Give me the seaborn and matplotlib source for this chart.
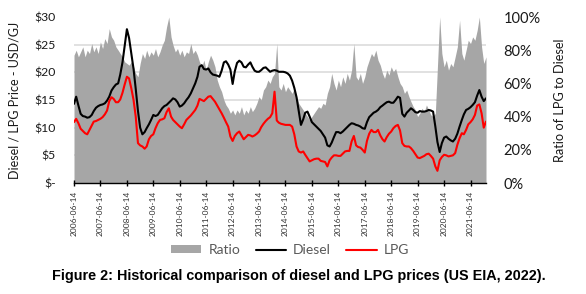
import numpy as np
import pandas as pd
import matplotlib
matplotlib.use("Agg")
import matplotlib.pyplot as plt
from matplotlib.ticker import FixedLocator
from matplotlib.patches import Patch
from matplotlib.lines import Line2D
import seaborn as sns

# ---------------- data (monthly readings, USD/GJ) ----------------
start_date = "2006-06-14"

diesel = [
    14.3, 15.6, 14.0, 12.5, 12.1, 12.0, 11.8, 11.9, 12.3, 13.0, 13.6, 13.9,
    14.1, 14.2, 14.4, 14.9, 15.6, 16.7, 17.3, 17.8, 18.0, 19.6, 21.8, 24.8,
    27.8, 26.2, 23.4, 20.6, 17.0, 13.0, 10.0, 8.8, 9.2, 9.9, 10.6, 11.4,
    12.3, 12.1, 12.3, 12.9, 13.5, 13.9, 14.1, 14.5, 14.9, 15.3, 15.1, 14.6,
    13.8, 14.0, 14.4, 15.0, 15.5, 16.2, 17.1, 18.0, 19.2, 21.0, 21.3, 20.6,
    20.5, 20.7, 20.0, 19.6, 19.5, 19.4, 19.2, 20.3, 21.8, 22.0, 21.4, 20.5,
    17.9, 20.2, 21.7, 22.1, 21.8, 21.0, 20.9, 21.4, 21.8, 21.0, 20.3, 20.1,
    20.1, 20.4, 20.8, 20.9, 20.5, 20.1, 20.3, 20.4, 20.3, 20.1, 20.1, 20.1,
    20.0, 19.8, 19.4, 18.5, 17.2, 15.5, 13.0, 10.5, 11.5, 12.7, 12.9, 12.0,
    11.0, 10.6, 10.2, 9.8, 9.4, 8.8, 8.2, 6.8, 6.6, 7.3, 8.3, 9.2,
    9.2, 9.0, 9.3, 9.7, 10.1, 10.5, 10.8, 10.7, 10.5, 10.4, 10.2, 9.9,
    9.8, 11.0, 11.9, 12.3, 12.7, 12.9, 13.2, 13.7, 14.0, 14.3, 14.6, 14.7,
    14.5, 14.5, 15.0, 15.6, 15.4, 12.5, 12.0, 12.7, 13.1, 13.5, 13.2, 12.8,
    12.7, 13.0, 12.9, 12.9, 13.0, 13.2, 13.1, 12.9, 10.2, 7.4, 5.6, 7.2,
    8.2, 8.4, 8.0, 7.7, 7.5, 8.0, 8.9, 10.2, 11.4, 12.4, 13.2, 13.4,
    13.7, 14.1, 14.6, 15.8, 16.8, 15.6, 14.8, 15.3,
]

lpg = [
    11.0, 11.6, 10.8, 9.8, 9.4, 9.0, 8.8, 9.6, 10.4, 11.1, 11.2, 11.4,
    11.6, 11.9, 12.4, 13.1, 14.8, 15.5, 15.2, 14.6, 14.6, 15.1, 16.3, 17.8,
    19.2, 18.9, 17.1, 15.0, 12.0, 7.2, 6.8, 6.6, 6.2, 6.6, 7.9, 8.5,
    8.8, 9.9, 10.8, 11.4, 11.5, 11.7, 12.8, 13.5, 12.0, 11.4, 11.0, 10.6,
    10.2, 9.9, 10.6, 11.4, 11.8, 12.2, 12.7, 13.2, 14.0, 15.2, 15.0, 14.8,
    15.2, 15.6, 15.7, 15.2, 14.7, 14.0, 13.3, 12.6, 11.8, 11.0, 10.2, 8.4,
    7.6, 8.5, 9.0, 9.3, 8.6, 7.9, 8.3, 8.7, 8.6, 8.4, 8.6, 8.9,
    9.3, 10.1, 10.7, 11.2, 11.6, 11.9, 12.6, 16.5, 11.3, 10.9, 10.7, 10.6,
    10.5, 10.5, 10.5, 10.2, 8.8, 6.6, 5.7, 5.5, 5.7, 5.1, 4.5, 3.9,
    4.1, 4.3, 4.4, 4.4, 4.0, 3.9, 3.8, 3.0, 4.1, 4.6, 5.0, 5.0,
    4.9, 4.9, 5.3, 5.7, 5.8, 5.8, 7.5, 8.5, 6.8, 6.5, 6.4, 6.0,
    5.5, 7.6, 8.9, 9.6, 9.2, 9.2, 9.6, 8.6, 7.9, 7.5, 8.3, 8.9,
    9.3, 9.9, 10.3, 10.5, 9.5, 7.2, 6.7, 6.6, 6.6, 6.3, 5.8, 5.2,
    4.6, 4.5, 4.7, 4.9, 5.2, 5.3, 4.9, 4.4, 3.0, 2.2, 4.1, 4.7,
    5.1, 5.0, 4.8, 4.9, 5.0, 5.4, 6.9, 8.1, 9.0, 8.8, 9.6, 10.6,
    11.0, 11.5, 12.3, 14.0, 14.2, 12.6, 10.0, 11.1,
]

ratio_pct = [
    77, 80, 76, 79, 82, 76, 80, 78, 84, 79, 82, 78,
    85, 81, 87, 84, 93, 88, 86, 82, 80, 78, 76, 73,
    72, 71, 73, 70, 66, 64, 72, 78, 75, 80, 76, 79,
    77, 81, 76, 79, 83, 86, 94, 100, 88, 83, 79, 81,
    77, 80, 76, 79, 78, 84, 78, 80, 77, 73, 70, 74,
    68, 73, 77, 74, 70, 62, 58, 55, 50, 47, 45, 42,
    44, 41, 44, 42, 46, 41, 44, 42, 46, 43, 45, 48,
    52, 50, 56, 58, 62, 60, 64, 66, 84, 58, 56, 60,
    55, 58, 56, 54, 57, 52, 48, 46, 44, 42, 40, 38,
    40, 42, 44, 46, 45, 48, 47, 54, 58, 66, 60, 56,
    62, 58, 64, 60, 66, 62, 68, 84, 64, 62, 66, 60,
    64, 70, 74, 78, 76, 80, 74, 71, 66, 63, 68, 65,
    70, 67, 69, 64, 60, 58, 54, 56, 52, 49, 46, 44,
    40, 42, 45, 43, 47, 44, 41, 40, 42, 70, 100, 78,
    70, 74, 68, 72, 70, 76, 82, 98, 78, 74, 80, 86,
    84, 88, 86, 92, 100, 82, 72, 76,
]

x_tick_labels = ["2006-06-14", "2007-06-14", "2008-06-14", "2009-06-14",
                 "2010-06-14", "2011-06-14", "2012-06-14", "2013-06-14",
                 "2014-06-14", "2015-06-14", "2016-06-14", "2017-06-14",
                 "2018-06-14", "2019-06-14", "2020-06-14", "2021-06-14"]
price_ticks = [0, 5, 10, 15, 20, 25, 30]
price_labels = ["$-", "$5", "$10", "$15", "$20", "$25", "$30"]
ratio_ticks = [0, 20, 40, 60, 80, 100]
ratio_labels = ["0%", "20%", "40%", "60%", "80%", "100%"]

series_names = ["Ratio", "Diesel", "LPG"]
caption = "Figure 2: Historical comparison of diesel and LPG prices (US EIA, 2022)."

# ---------------- build frame ----------------
dates = pd.date_range(start_date, periods=len(diesel), freq=pd.DateOffset(months=1))
df = pd.DataFrame({"date": dates, "Diesel": diesel, "LPG": lpg,
                   "Ratio": np.array(ratio_pct) / 100.0})

sns.set_theme(style="white")
plt.rcParams["font.family"] = ["Lato", "DejaVu Sans"]

W, H = 586, 294
fig = plt.figure(figsize=(W / 100, H / 100), dpi=100)
L, R, T, B = 74, 486, 17, 183
ax = fig.add_axes([L / W, 1 - B / H, (R - L) / W, (B - T) / H])
ax2 = ax.twinx()

GRAY = "#a6a6a6"
# ratio area on the right axis (behind)
ax2.fill_between(df["date"], df["Ratio"], 0, color=GRAY, lw=0, zorder=2)
ax2.set_ylim(0, 1)
ax2.yaxis.set_major_locator(FixedLocator([v / 100 for v in ratio_ticks]))
ax2.set_yticklabels(ratio_labels)
ax2.yaxis.set_minor_locator(FixedLocator([k / 6 for k in range(1, 7)]))
ax2.grid(False)
ax2.grid(which="minor", axis="y", color="#d9d9d9", lw=1.1)
ax2.set_axisbelow(True)
ax2.tick_params(axis="y", which="both", length=0, pad=12.5, labelsize=10.5,
                labelcolor="#1a1a1a")
for s in ax2.spines.values():
    s.set_visible(False)

# price lines on the left axis (front)
sns.lineplot(data=df, x="date", y="Diesel", ax=ax, color="black", lw=1.5)
sns.lineplot(data=df, x="date", y="LPG", ax=ax, color="#ff0000", lw=1.5)
ax.set_zorder(ax2.get_zorder() + 1)
ax.patch.set_visible(False)
ax.set_ylim(0, 30)
ax.set_xlim(dates[0], dates[-1])
ax.set_yticks(price_ticks)
ax.set_yticklabels(price_labels)
ax.grid(False)
ax.tick_params(axis="y", length=0, pad=13, labelsize=8.8, labelcolor="#1a1a1a")

tick_dates = pd.to_datetime(x_tick_labels)
ax.set_xticks(tick_dates)
ax.set_xticklabels(x_tick_labels, rotation=90)
ax.tick_params(axis="x", direction="inout", length=5, width=1, color="black",
               pad=3, labelsize=6, labelcolor="#333333", bottom=True)
for k in ["left", "right", "top"]:
    ax.spines[k].set_visible(False)
ax.spines["bottom"].set_color("black")
ax.spines["bottom"].set_linewidth(1)

ax.set_xlabel("")
ax.set_ylabel("Diesel / LPG Price - USD/GJ", fontsize=9, color="#1a1a1a")
ax.yaxis.set_label_coords((21 - L) / (R - L), 0.5)
ax2.set_ylabel("Ratio of LPG to Diesel", fontsize=9.2, color="#1a1a1a")
ax2.yaxis.set_label_coords((554 - L) / (R - L), 0.5)

# legend
handles = [Patch(facecolor=GRAY, edgecolor="none"),
           Line2D([], [], color="black", lw=1.5),
           Line2D([], [], color="#ff0000", lw=1.5)]
leg = fig.legend(handles, series_names, loc="center", ncol=3,
                 bbox_to_anchor=(290 / W, 1 - 250 / H), frameon=False,
                 fontsize=10, handlelength=2.2, handleheight=0.45,
                 handletextpad=0.5, columnspacing=1.1)
for t in leg.get_texts():
    t.set_color("#595959")

fig.text(298.5 / W, 1 - 276 / H, caption, ha="center", va="center",
         fontsize=10.4, fontweight="bold", family=["Liberation Sans", "DejaVu Sans"],
         color="black")

fig.savefig("out.png", dpi=100, facecolor="white")
